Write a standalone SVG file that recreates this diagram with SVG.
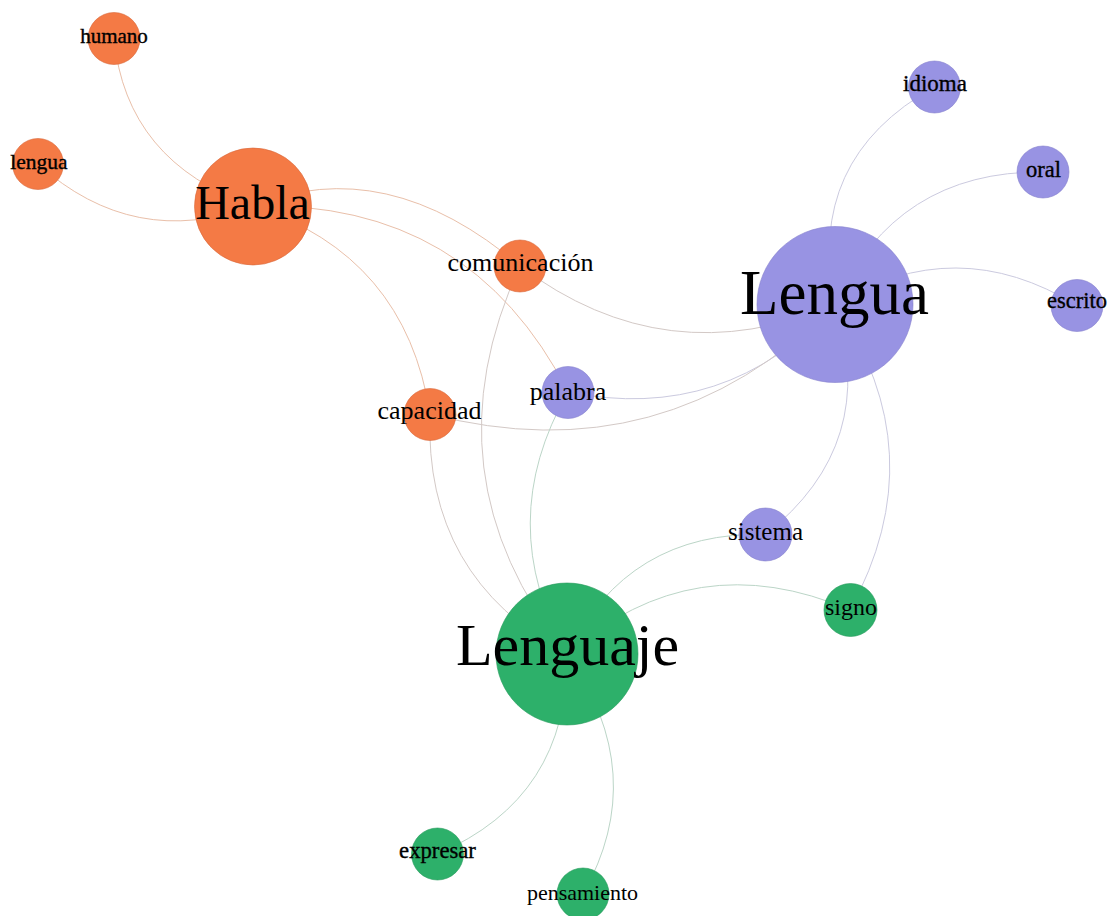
<svg xmlns="http://www.w3.org/2000/svg" width="1108" height="916" viewBox="0 0 1108 916">
<style>
.e{fill:none;stroke-width:1}
.eh{stroke:#E9BFA9}
.em{stroke:#D3C9C6}
.el{stroke:#CBCADF}
.ej{stroke:#BBD5C7}
.o{fill:#F47A45;stroke:#D9683A;stroke-width:0.6}
.p{fill:#9893E3;stroke:#8580CC;stroke-width:0.6}
.g{fill:#2DB06A;stroke:#279A5C;stroke-width:0.6}
text{font-family:"Liberation Serif","Times New Roman",serif;fill:#000;text-anchor:middle}
.s{stroke:#000;stroke-width:0.35}
</style>
<rect width="1108" height="916" fill="#fff"/>
<g id="edges">
<path class="e eh" d="M114,38 Q126,162 253,206"/>
<path class="e eh" d="M38,164 Q134,250 253,206"/>
<path class="e eh" d="M253,206 Q386,152 520,266"/>
<path class="e eh" d="M253,206 Q470,200 568,392"/>
<path class="e eh" d="M253,206 Q405.5,255.6 430,414"/>
<path class="e em" d="M520,266 Q666,376 835,304.5"/>
<path class="e el" d="M568,392 Q726,424 835,304.5"/>
<path class="e em" d="M430,414 Q664,475 835,304.5"/>
<path class="e em" d="M520,266 Q424,474 567,654"/>
<path class="e ej" d="M568,392 Q493,523 567,654"/>
<path class="e em" d="M430,414 Q424,577 567,654"/>
<path class="e el" d="M835,304.5 Q804.7,159.2 934.5,87"/>
<path class="e el" d="M835,304.5 Q896,170.6 1043,172"/>
<path class="e el" d="M835,304.5 Q956,231 1077,305.5"/>
<path class="e el" d="M835,304.5 Q880.4,443.8 765.5,534.5"/>
<path class="e el" d="M835,304.5 Q936.4,452.4 850,610"/>
<path class="e ej" d="M567,654 Q628,530.8 765.5,534.5"/>
<path class="e ej" d="M567,654 Q694.6,543 850,610"/>
<path class="e ej" d="M567,654 Q569,797.4 437.5,854"/>
<path class="e ej" d="M567,654 Q651,774 583,894"/>
</g>
<g id="node-humano"><circle class="o" cx="114" cy="38.5" r="26"/><text class="s" x="114" y="43" font-size="21">humano</text></g>
<g id="node-lengua"><circle class="o" cx="38" cy="164" r="25.5"/><text class="s" x="39" y="169" font-size="21.5">lengua</text></g>
<g id="node-habla"><circle class="o" cx="253" cy="206.5" r="58.5"/><text x="252.5" y="219" font-size="48">Habla</text></g>
<g id="node-comunicacion"><circle class="o" cx="520" cy="266" r="26"/><text x="520.5" y="271" font-size="26">comunicación</text></g>
<g id="node-capacidad"><circle class="o" cx="430" cy="414.5" r="26"/><text x="429.5" y="419" font-size="26">capacidad</text></g>
<g id="node-palabra"><circle class="p" cx="568" cy="392.5" r="26"/><text x="568" y="400" font-size="26">palabra</text></g>
<g id="node-Lengua"><circle class="p" cx="835" cy="304.5" r="78"/><text x="834.5" y="314" font-size="63">Lengua</text></g>
<g id="node-idioma"><circle class="p" cx="934.5" cy="87" r="26"/><text class="s" x="935" y="91" font-size="23">idioma</text></g>
<g id="node-oral"><circle class="p" cx="1043" cy="172" r="26"/><text class="s" x="1043.5" y="177" font-size="22.5">oral</text></g>
<g id="node-escrito"><circle class="p" cx="1077" cy="305.5" r="26"/><text class="s" x="1077" y="308" font-size="22.5">escrito</text></g>
<g id="node-sistema"><circle class="p" cx="765.5" cy="534.5" r="26.5"/><text x="765.5" y="540" font-size="25">sistema</text></g>
<g id="node-signo"><circle class="g" cx="850.5" cy="610" r="26.5"/><text x="851" y="615" font-size="24">signo</text></g>
<g id="node-Lenguaje"><circle class="g" cx="567" cy="654" r="71"/><text x="567.5" y="665" font-size="60">Lenguaje</text></g>
<g id="node-expresar"><circle class="g" cx="437.5" cy="854" r="26"/><text class="s" x="437.5" y="858" font-size="22.7">expresar</text></g>
<g id="node-pensamiento"><circle class="g" cx="583" cy="894" r="26"/><text x="582.5" y="900" font-size="22">pensamiento</text></g>
</svg>
